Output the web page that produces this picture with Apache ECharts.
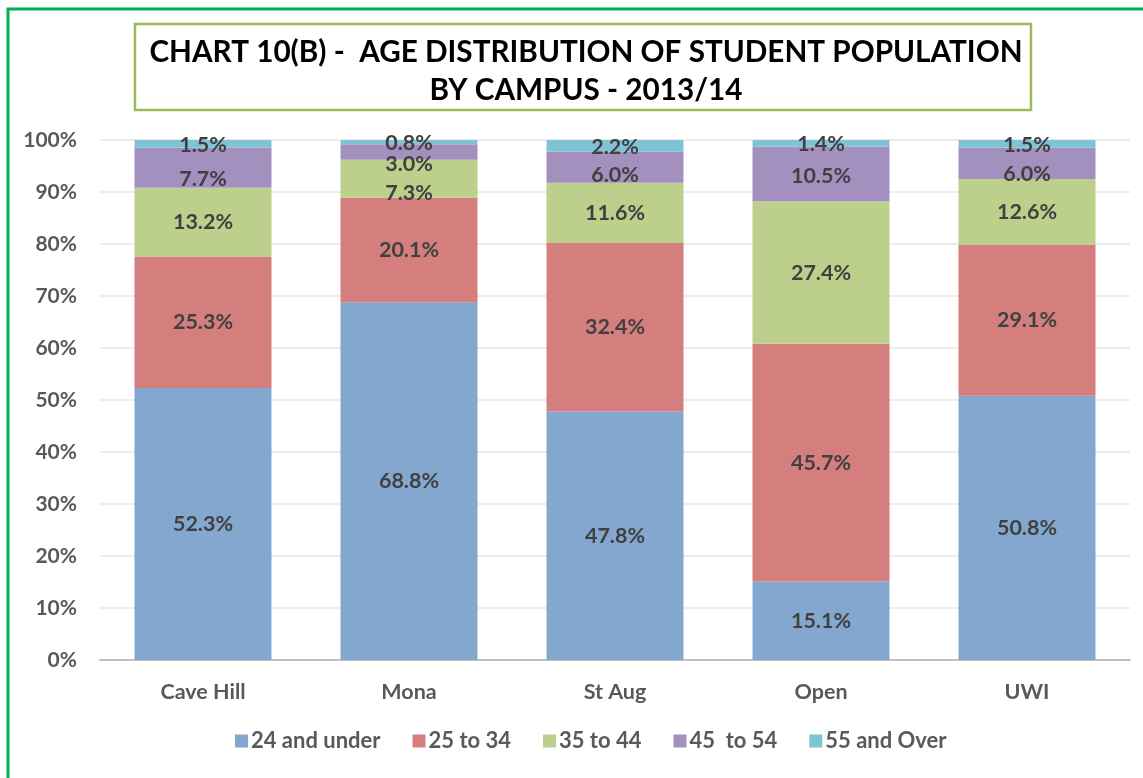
<!DOCTYPE html>
<html>
<head>
<meta charset="utf-8">
<script src="https://cdn.jsdelivr.net/npm/echarts@6/dist/echarts.min.js"></script>
<style>
  html, body { margin: 0; padding: 0; background: #fff; }
  #main { width: 1143px; height: 778px; }
</style>
</head>
<body>
<div id="main"></div>
<script>
// campuses on the x axis
const campuses = ['Cave Hill', 'Mona', 'St Aug', 'Open', 'UWI'];
const ageGroups = ['24 and under', '25 to 34', '35 to 44', '45  to 54', '55 and Over'];

// percentages per age group, one value per campus
const under24 = [52.3, 68.8, 47.8, 15.1, 50.8];
const age25to34 = [25.3, 20.1, 32.4, 45.7, 29.1];
const age35to44 = [13.2, 7.3, 11.6, 27.4, 12.6];
const age45to54 = [7.7, 3.0, 6.0, 10.5, 6.0];
const over55 = [1.5, 0.8, 2.2, 1.4, 1.5];

const yTicks = [0, 10, 20, 30, 40, 50, 60, 70, 80, 90, 100];

const seriesValues = [under24, age25to34, age35to44, age45to54, over55];
const colors = ['#84a7d0', '#d47f7d', '#bccf8b', '#a490bf', '#7fc4d6'];

// label nudges (px, downwards) like Excel does for crowded small segments
const labelNudge = [
  [0, 0, 0, 0, 0],
  [0, 0, 0, 0, 0],
  [0, 14, 0, 0, 0],
  [11, 12, 8, 2, 11],
  [1, 1, 1, 1, 1]
];

const font = 'Lato, "Open Sans", sans-serif';
const textGrey = '#595959';

const chart = echarts.init(document.getElementById('main'), null, { renderer: 'canvas' });

const series = ageGroups.map((name, i) => ({
  name: name,
  type: 'bar',
  stack: 'total',
  barWidth: '66.5%',
  itemStyle: { color: colors[i] },
  label: {
    show: true,
    position: 'inside',
    fontFamily: font,
    fontWeight: 'bold',
    fontSize: 21.5,
    color: '#404040',
    formatter: p => p.value.toFixed(1) + '%'
  },
  data: seriesValues[i].map((v, j) => ({
    value: v,
    label: { offset: [0, labelNudge[i][j]] }
  }))
}));

const option = {
  animation: false,
  backgroundColor: '#ffffff',
  graphic: [
    {
      type: 'rect',
      shape: { x: 8, y: 9, width: 1200, height: 800 },
      style: { fill: 'none', stroke: '#00b050', lineWidth: 3 },
      silent: true
    },
    {
      type: 'rect',
      shape: { x: 135, y: 24, width: 896, height: 86 },
      style: { fill: 'none', stroke: '#9bbb59', lineWidth: 2.5 },
      silent: true
    }
  ],
  title: {
    text: 'CHART 10(B) -  AGE DISTRIBUTION OF STUDENT POPULATION\nBY CAMPUS - 2013/14',
    left: 581,
    top: 28,
    textAlign: 'center',
    textStyle: {
      fontFamily: font,
      fontWeight: 'bold',
      fontSize: 29.7,
      lineHeight: 38,
      color: '#000000'
    }
  },
  legend: {
    bottom: 21,
    left: 230,
    itemWidth: 13,
    itemHeight: 13,
    itemGap: 32,
    icon: 'rect',
    textStyle: {
      fontFamily: font,
      fontWeight: 'bold',
      fontSize: 22,
      color: textGrey,
      padding: [0, 0, 0, -2]
    },
    data: ageGroups
  },
  grid: {
    left: 100,
    right: 13,
    top: 140,
    bottom: 118,
    containLabel: false
  },
  xAxis: {
    type: 'category',
    data: campuses,
    axisTick: { show: false },
    axisLine: { lineStyle: { color: '#bfbfbf', width: 2 } },
    axisLabel: {
      margin: 21,
      fontFamily: font,
      fontWeight: 'bold',
      fontSize: 21.5,
      color: textGrey
    }
  },
  yAxis: {
    type: 'value',
    min: yTicks[0],
    max: yTicks[yTicks.length - 1],
    interval: yTicks[1] - yTicks[0],
    axisLine: { show: false },
    axisTick: { show: false },
    splitLine: { lineStyle: { color: '#e6e6e6', width: 1.5 } },
    axisLabel: {
      margin: 23,
      fontFamily: font,
      fontWeight: 'bold',
      fontSize: 21,
      color: textGrey,
      formatter: '{value}%'
    }
  },
  series: series
};

chart.setOption(option);
</script>
</body>
</html>
